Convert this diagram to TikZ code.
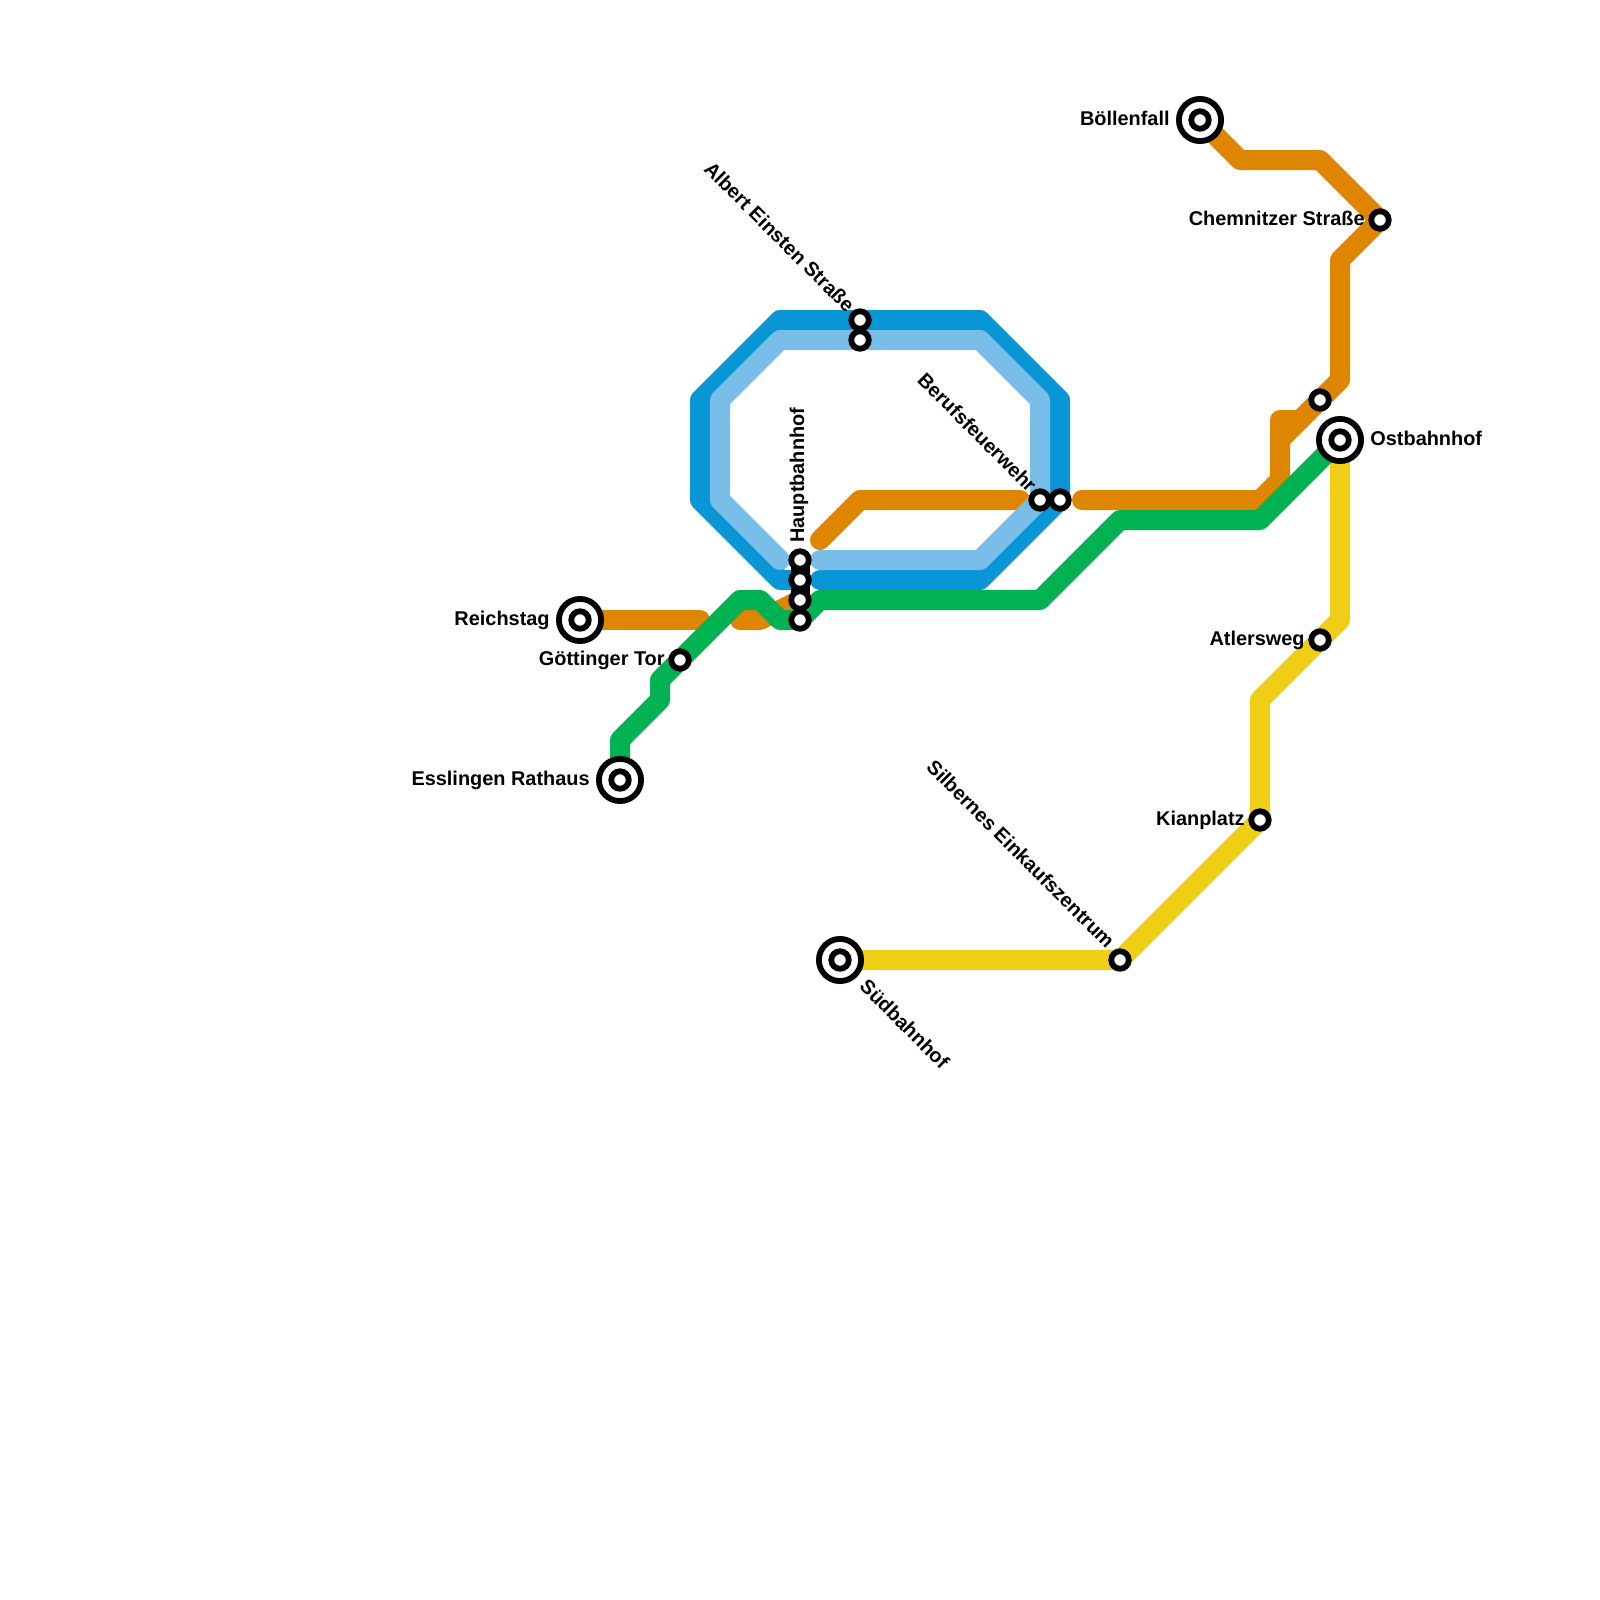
\documentclass[tikz,border=0pt]{standalone}
\usepackage{fontspec}
\setmainfont{Liberation Sans}
\definecolor{lorange}{HTML}{DF8600}
\definecolor{lyellow}{HTML}{F0CE15}
\definecolor{ldark}{HTML}{0896D7}
\definecolor{llight}{HTML}{79BDE9}
\definecolor{lgreen}{HTML}{00B251}
\tikzset{
  x=0.5pt,y=-0.5pt,
  metro/.style={line width=10pt,line join=round,line cap=round},
  small/.style={circle,draw=black,fill=white,line width=2.9pt,minimum size=8.75pt,inner sep=0pt,outer sep=0pt},
  big/.style={circle,draw=black,fill=white,line width=2.9pt,minimum size=21.1pt,inner sep=0pt,outer sep=0pt},
  lab/.style={font=\bfseries\fontsize{9.95pt}{12pt}\selectfont,inner sep=0pt,text height=7.2pt,text depth=2.1pt},
}
\begin{document}
\begin{tikzpicture}
\useasboundingbox (0,0) rectangle (1600,1600);
% station positions
\coordinate (pReich) at (580,620);
\coordinate (pGoet) at (680,660);
\coordinate (pEss) at (620,780);
\coordinate (pH1) at (800,560);
\coordinate (pH2) at (800,580);
\coordinate (pH3) at (800,600);
\coordinate (pH4) at (800,620);
\coordinate (pA1) at (860,320);
\coordinate (pA2) at (860,340);
\coordinate (pB1) at (1040,500);
\coordinate (pB2) at (1060,500);
\coordinate (pOst) at (1340,440);
\coordinate (pOr) at (1320,400);
\coordinate (pChem) at (1380,220);
\coordinate (pBoe) at (1200,120);
\coordinate (pAtl) at (1320,640);
\coordinate (pKian) at (1260,820);
\coordinate (pSilb) at (1120,960);
\coordinate (pSued) at (840,960);
% orange
\draw[metro,lorange] (pBoe) -- (1240,160) -- (1320,160) -- (pChem) -- (1340,260) -- (1340,380) -- (pOr) -- (1280,440) -- (1280,480) -- (1260,500) -- (1082,500);
\draw[metro,lorange] (1280,440) -- (1280,420) -- (1300,420);
\draw[metro,lorange] (1020,500) -- (860,500) -- (820,540);
\draw[metro,lorange] (pReich) -- (700,620);
\draw[metro,lorange] (740,620) -- (760,620) -- (pH3);
% yellow
\draw[metro,lyellow] (pSued) -- (pSilb) -- (pKian) -- (1260,700) -- (pAtl) -- (1340,620) -- (pOst);
% dark blue
\draw[metro,ldark] (pH2) -- (780,580) -- (700,500) -- (700,400) -- (780,320) -- (pA1) -- (980,320) -- (1060,400) -- (pB2) -- (980,580) -- (820,580);
% light blue
\draw[metro,llight] (780,560) -- (720,500) -- (720,400) -- (780,340) -- (pA2) -- (980,340) -- (1040,400) -- (1040,500) -- (980,560) -- (820,560);
% green
\draw[metro,lgreen] (pEss) -- (620,740) -- (660,700) -- (660,680) -- (pGoet) -- (740,600) -- (760,600) -- (780,620) -- (pH4) -- (820,600) -- (1040,600) -- (1120,520) -- (1260,520) -- (pOst);
% interchange link
\draw[line width=9.5pt,black] (pH1) -- (pH3);
% stations
\node[big] (sReich) at (pReich) {}; \node[small] (cReich) at (pReich) {};
\node[big] (sEss) at (pEss) {}; \node[small] (cEss) at (pEss) {};
\node[big] (sOst) at (pOst) {}; \node[small] (cOst) at (pOst) {};
\node[big] (sBoe) at (pBoe) {}; \node[small] (cBoe) at (pBoe) {};
\node[big] (sSued) at (pSued) {}; \node[small] (cSued) at (pSued) {};
\node[small] (sGoet) at (pGoet) {};
\node[small] (sH1) at (pH1) {};
\node[small] (sH2) at (pH2) {};
\node[small] (sH3) at (pH3) {};
\node[small] (sH4) at (pH4) {};
\node[small] (sA1) at (pA1) {};
\node[small] (sA2) at (pA2) {};
\node[small] (sB1) at (pB1) {};
\node[small] (sB2) at (pB2) {};
\node[small] (sOr) at (pOr) {};
\node[small] (sChem) at (pChem) {};
\node[small] (sAtl) at (pAtl) {};
\node[small] (sKian) at (pKian) {};
\node[small] (sSilb) at (pSilb) {};
% labels
\node[lab,anchor=east] (lReich) at (550,620) {Reichstag};
\node[lab,anchor=east] (lGoet) at (665,660) {Göttinger Tor};
\node[lab,anchor=east] (lEss) at (590,780) {Esslingen Rathaus};
\node[lab,anchor=east] (lBoe) at (1170,120) {Böllenfall};
\node[lab,anchor=east] (lChem) at (1365,220) {Chemnitzer Straße};
\node[lab,anchor=west] (lOst) at (1370,440) {Ostbahnhof};
\node[lab,anchor=east] (lAtl) at (1305,640) {Atlersweg};
\node[lab,anchor=east] (lKian) at (1245,820) {Kianplatz};
\node[lab,anchor=east,rotate=-45] (lAlb) at (850,310) {Albert Einsten Straße};
\node[lab,anchor=east,rotate=-45] (lBer) at (1032,490) {Berufsfeuerwehr};
\node[lab,anchor=east,rotate=-45] (lSilb) at (1110,946) {Silbernes Einkaufszentrum};
\node[lab,anchor=west,rotate=-45] (lSued) at (862,984) {Südbahnhof};
\node[lab,anchor=west,rotate=90] (lHaupt) at (799,543) {Hauptbahnhof};
\end{tikzpicture}
\end{document}
